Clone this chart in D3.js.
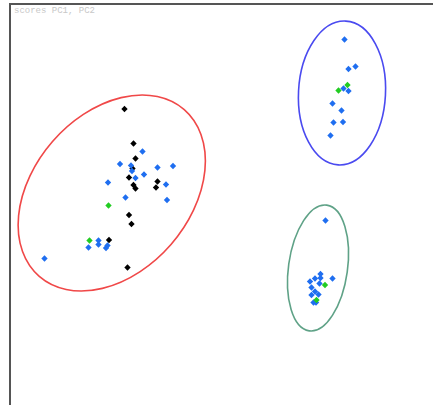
<!DOCTYPE html>
<html>
<head>
<meta charset="utf-8">
<script src="https://cdn.jsdelivr.net/npm/d3@7"></script>
<style>
  html, body { margin: 0; padding: 0; background: #fff; }
  svg { display: block; }
</style>
</head>
<body>
<svg id="chart" width="433" height="405"></svg>
<script>
// PCA scores (PC1, PC2) for each group
const blackPC1 = [-1.51, -1.33, -1.29, -1.35, -1.42, -1.33, -1.29, -0.85, -0.88, -1.42, -1.37, -1.82, -1.45];
const blackPC2 = [1.82, 1.13, 0.83, 0.63, 0.45, 0.30, 0.23, 0.37, 0.25, -0.30, -0.48, -0.80, -1.35];

const bluePC1 = [-1.15, -1.60, -1.38, -1.36, -1.29, -1.12, -0.85, -0.54, -1.84, -0.68, -1.49, -0.66,
                 -2.03, -2.03, -2.23, -1.88, -1.85, -3.11,
                 2.89, 3.11, 2.97, 2.87, 2.97, 2.65, 2.83, 2.67, 2.86, 2.61,
                 2.51, 2.41, 2.41, 2.30, 2.65, 2.20, 2.39, 2.23, 2.30, 2.23, 2.27, 2.32, 2.37];
const bluePC2 = [0.97, 0.72, 0.69, 0.58, 0.44, 0.51, 0.65, 0.68, 0.35, 0.31, 0.05, 0.00,
                 -0.81, -0.89, -0.95, -0.96, -0.91, -1.17,
                 3.21, 2.67, 2.62, 2.23, 2.18, 1.93, 1.79, 1.55, 1.56, 1.29,
                 -0.41, -1.48, -1.56, -1.57, -1.57, -1.63, -1.67, -1.75, -1.83, -1.90, -2.05, -2.05, -1.89];

const greenPC1 = [-1.83, -2.21, 2.95, 2.77, 2.50, 2.33];
const greenPC2 = [-0.11, -0.81, 2.30, 2.19, -1.70, -2.00];

// Cluster ellipses: centre, semi-axes (score units), rotation (degrees)
const ellipseCX    = [-1.765, 2.84, 2.36];
const ellipseCY    = [0.14, 2.14, -1.36];
const ellipseRX    = [2.21, 0.87, 0.59];
const ellipseRY    = [1.57, 1.44, 1.27];
const ellipseAngle = [-49, 3, 8];

const title = "scores PC1, PC2";

const svg = d3.select("#chart");
const W = 433, H = 405;

const x = d3.scaleLinear().domain([-3.8, 4.66]).range([10, 433]);
const y = d3.scaleLinear().domain([3.9, -4.1]).range([5, 405]);
const k = x(1) - x(0);

// frame: top and left edges
svg.append("line").attr("x1", 10).attr("x2", W).attr("y1", 4).attr("y2", 4)
  .attr("stroke", "#555").attr("stroke-width", 2);
svg.append("line").attr("x1", 10).attr("x2", 10).attr("y1", 3).attr("y2", H)
  .attr("stroke", "#555").attr("stroke-width", 2);

svg.append("text").attr("x", 14).attr("y", 13)
  .attr("font-family", "Liberation Mono, monospace").attr("font-size", 9)
  .attr("fill", "#c8c8c8").text(title);

const ellipseColors = ["#f04848", "#4a4af0", "#5fa287"];
svg.append("g").selectAll("ellipse").data(d3.range(ellipseCX.length)).join("ellipse")
  .attr("cx", 0).attr("cy", 0)
  .attr("rx", i => ellipseRX[i] * k)
  .attr("ry", i => ellipseRY[i] * k)
  .attr("transform", i => `translate(${x(ellipseCX[i])},${y(ellipseCY[i])}) rotate(${ellipseAngle[i]})`)
  .attr("fill", "none")
  .attr("stroke", (i) => ellipseColors[i])
  .attr("stroke-width", 1.6);

const marker = d3.symbol().type(d3.symbolSquare).size(20);

function drawPoints(px, py, color) {
  svg.append("g").selectAll("path").data(d3.range(px.length)).join("path")
    .attr("d", marker)
    .attr("transform", i => `translate(${x(px[i])},${y(py[i])}) rotate(45)`)
    .attr("fill", color);
}
drawPoints(blackPC1, blackPC2, "#000");
drawPoints(bluePC1, bluePC2, "#1f6ef0");
drawPoints(greenPC1, greenPC2, "#22cc22");
</script>
</body>
</html>
